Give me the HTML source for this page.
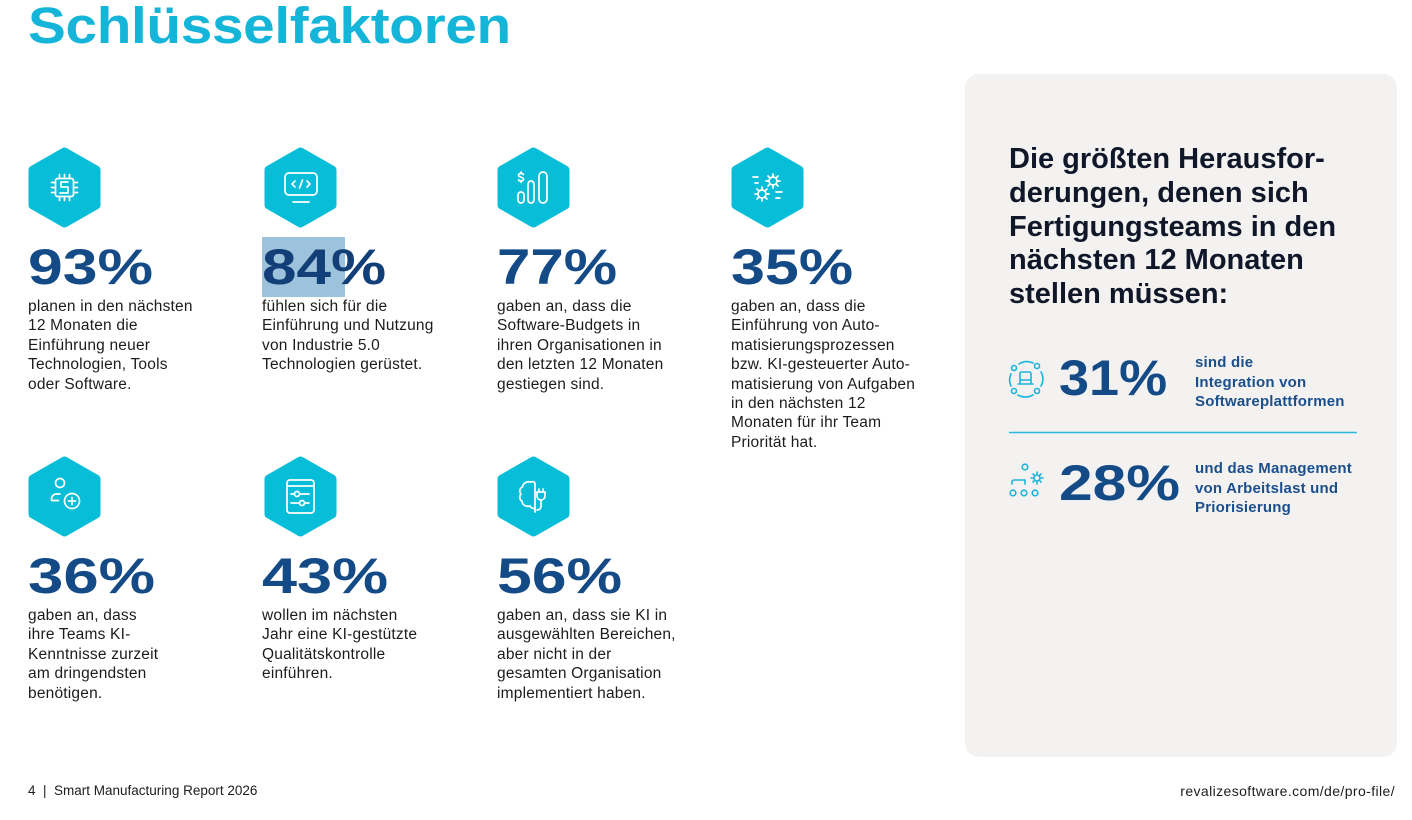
<!DOCTYPE html>
<html><head><meta charset="utf-8">
<style>
html,body{margin:0;padding:0;background:#fff;}
body{width:1412px;height:820px;position:relative;overflow:hidden;font-family:"Liberation Sans",sans-serif;}
.abs{position:absolute;white-space:nowrap;}
.title{left:28px;top:0;font-size:51px;line-height:51px;font-weight:bold;color:#14b5d8;transform:scaleX(1.112);transform-origin:0 0;letter-spacing:-0.3px;}
.num{font-size:50px;line-height:50px;font-weight:bold;color:#144b87;transform-origin:0 0;}
.desc{font-size:15.5px;line-height:19.4px;color:#1c1c1c;letter-spacing:0.2px;}
.head{left:1009px;top:143px;font-size:29px;line-height:33.8px;font-weight:bold;color:#0f1729;}
.rtxt{font-size:15px;line-height:19.5px;font-weight:bold;color:#1b4f8c;letter-spacing:0.2px;}
.foot{line-height:16px;color:#1c1c1c;top:783px;}
</style></head><body>
<svg class="abs" style="left:0;top:0" width="1412" height="820" viewBox="0 0 1412 820">
  <defs>
    <g id="hex"><polygon points="36.5,5 68,23 68,58 36.5,76 5,58 5,23" fill="#07bdd7" stroke="#07bdd7" stroke-width="9" stroke-linejoin="round"/></g>
  </defs>
  <rect x="965" y="74" width="432" height="683" rx="14" fill="#f3f2f1"/>
  <line x1="1009" y1="432.5" x2="1357" y2="432.5" stroke="#2bb8e0" stroke-width="1.6"/>
  <rect x="262" y="237" width="83" height="60" fill="#9dc3dc"/>
  <use href="#hex" x="28" y="147"/>
  <use href="#hex" x="264" y="147"/>
  <use href="#hex" x="497" y="147"/>
  <use href="#hex" x="731" y="147"/>
  <use href="#hex" x="28" y="456"/>
  <use href="#hex" x="264" y="456"/>
  <use href="#hex" x="497" y="456"/>
  <g fill="none" stroke="#fff" stroke-width="1.7" stroke-linecap="round" stroke-linejoin="round">
    <rect x="55.5" y="178.5" width="18" height="18" rx="2"/>
    <path d="M59.5 178.5v-4M64.5 178.5v-4M69.5 178.5v-4M59.5 196.5v4M64.5 196.5v4M69.5 196.5v4M55.5 182.5h-4M55.5 187.5h-4M55.5 192.5h-4M73.5 182.5h4M73.5 187.5h4M73.5 192.5h4"/>
    <path d="M68 182h-7v5h7v6h-8"/>
    <rect x="285" y="173" width="32" height="22" rx="4"/>
    <path d="M293 202h16M295 181l-3 3 3 3M307 181l3 3-3 3M302.5 180l-3 8"/>
    <rect x="518" y="192" width="6" height="11" rx="3"/>
    <rect x="528" y="181" width="6" height="22" rx="3"/>
    <rect x="539" y="172" width="8" height="31" rx="4"/>
    <path d="M523.5 174.5c-1-1.5-5-1.5-5 .8 0 2.5 5 1.2 5 3.8 0 2.3-4 2.3-5 .8M521 172v1.5M521 181v1.5"/>
    <circle cx="773" cy="181" r="4"/>
    <path d="M773 174v2.5M773 185.5v2.5M766 181h2.5M777.5 181h2.5M768 176l1.8 1.8M776.2 184.2l1.8 1.8M778 176l-1.8 1.8M769.8 184.2l-1.8 1.8"/>
    <circle cx="762" cy="194" r="4"/>
    <path d="M762 187v2.5M762 198.5v2.5M755 194h2.5M766.5 194h2.5M757 189l1.8 1.8M765.2 197.2l1.8 1.8M767 189l-1.8 1.8M758.8 197.2l-1.8 1.8"/>
    <path d="M753 177h5M755 183h3M776 192h6M776 198h4"/>
    <circle cx="60" cy="483" r="4.5"/>
    <path d="M60 494h-3.5a5 5 0 0 0 -5 5v1.5h7"/>
    <circle cx="72" cy="501" r="7.5"/>
    <path d="M72 497.5v7M68.5 501h7"/>
    <rect x="287" y="480" width="27" height="33" rx="3"/>
    <path d="M287 486h27M291 494h3M300 494h9M291 503h8M305 503h4"/>
    <circle cx="297" cy="494" r="2.5"/>
    <circle cx="302" cy="503" r="2.5"/>
    <path d="M531 482c-4-1-8 1-8.5 5-3 1-3.5 5-1.5 7-2 2-1.5 6 1 7 0 4 4 6 8 5 1 2 3 3 5 2"/>
    <path d="M531 482c2-1 4 0 4 2v28"/>
    <path d="M537 492h8v4a4 4 0 0 1 -8 0zM539 492v-3M543 492v-3M541 500v6c0 3-2 4-4 4"/>
  </g>
  <g fill="none" stroke="#1ab4dc" stroke-width="1.6" stroke-linecap="round" stroke-linejoin="round">
    <circle cx="1014" cy="368" r="2.5"/><circle cx="1037" cy="366" r="2.5"/>
    <circle cx="1014" cy="391" r="2.5"/><circle cx="1037" cy="391" r="2.5"/>
    <path d="M1019 364a15 15 0 0 1 14 -1M1033 395a15 15 0 0 1 -15 0M1011 374a14 14 0 0 0 0 12M1041 372a14 14 0 0 1 0 14"/>
    <rect x="1020" y="372" width="11" height="8" rx="1.5"/>
    <path d="M1018 384h15M1020 380v4M1031 380v4"/>
    <circle cx="1025" cy="467" r="2.8"/>
    <circle cx="1013" cy="493" r="2.8"/><circle cx="1024" cy="493" r="2.8"/><circle cx="1035" cy="493" r="2.8"/>
    <path d="M1012 484v-2a2 2 0 0 1 2 -2h11v4"/>
    <circle cx="1037" cy="478" r="3"/>
    <path d="M1037 472v2M1037 482v2M1031 478h2M1041 478h2M1033 474l1.3 1.3M1039.7 480.7l1.3 1.3M1041 474l-1.3 1.3M1034.3 480.7l-1.3 1.3"/>
  </g>
</svg>

<div class="abs title">Schlüsselfaktoren</div>

<div class="abs num" style="left:28px;top:242px;transform:scaleX(1.25)">93%</div>
<div class="abs num" style="left:262px;top:242px;transform:scaleX(1.24);color:#123f78">84%</div>
<div class="abs num" style="left:497px;top:242px;transform:scaleX(1.2)">77%</div>
<div class="abs num" style="left:731px;top:242px;transform:scaleX(1.22)">35%</div>
<div class="abs num" style="left:28px;top:551px;transform:scaleX(1.27)">36%</div>
<div class="abs num" style="left:262px;top:551px;transform:scaleX(1.26)">43%</div>
<div class="abs num" style="left:497px;top:551px;transform:scaleX(1.25)">56%</div>

<div class="abs desc" style="left:28px;top:297px">planen in den nächsten<br>12 Monaten die<br>Einführung neuer<br>Technologien, Tools<br>oder Software.</div>
<div class="abs desc" style="left:262px;top:297px">fühlen sich für die<br>Einführung und Nutzung<br>von Industrie 5.0<br>Technologien gerüstet.</div>
<div class="abs desc" style="left:497px;top:297px">gaben an, dass die<br>Software-Budgets in<br>ihren Organisationen in<br>den letzten 12 Monaten<br>gestiegen sind.</div>
<div class="abs desc" style="left:731px;top:297px">gaben an, dass die<br>Einführung von Auto-<br>matisierungsprozessen<br>bzw. KI-gesteuerter Auto-<br>matisierung von Aufgaben<br>in den nächsten 12<br>Monaten für ihr Team<br>Priorität hat.</div>
<div class="abs desc" style="left:28px;top:606px">gaben an, dass<br>ihre Teams KI-<br>Kenntnisse zurzeit<br>am dringendsten<br>benötigen.</div>
<div class="abs desc" style="left:262px;top:606px">wollen im nächsten<br>Jahr eine KI-gestützte<br>Qualitätskontrolle<br>einführen.</div>
<div class="abs desc" style="left:497px;top:606px">gaben an, dass sie KI in<br>ausgewählten Bereichen,<br>aber nicht in der<br>gesamten Organisation<br>implementiert haben.</div>

<div class="abs head">Die größten Herausfor-<br>derungen, denen sich<br>Fertigungsteams in den<br>nächsten 12 Monaten<br>stellen müssen:</div>

<div class="abs num" style="left:1059px;top:353px;transform:scaleX(1.08)">31%</div>
<div class="abs num" style="left:1059px;top:458px;transform:scaleX(1.21)">28%</div>
<div class="abs rtxt" style="left:1195px;top:353px">sind die<br>Integration von<br>Softwareplattformen</div>
<div class="abs rtxt" style="left:1195px;top:459px">und das Management<br>von Arbeitslast und<br>Priorisierung</div>

<div class="abs foot" style="left:28px;font-size:13.5px">4 &nbsp;|&nbsp; Smart Manufacturing Report 2026</div>
<div class="abs foot" style="right:17px;font-size:14px;letter-spacing:0.4px">revalizesoftware.com/de/pro-file/</div>
</body></html>
